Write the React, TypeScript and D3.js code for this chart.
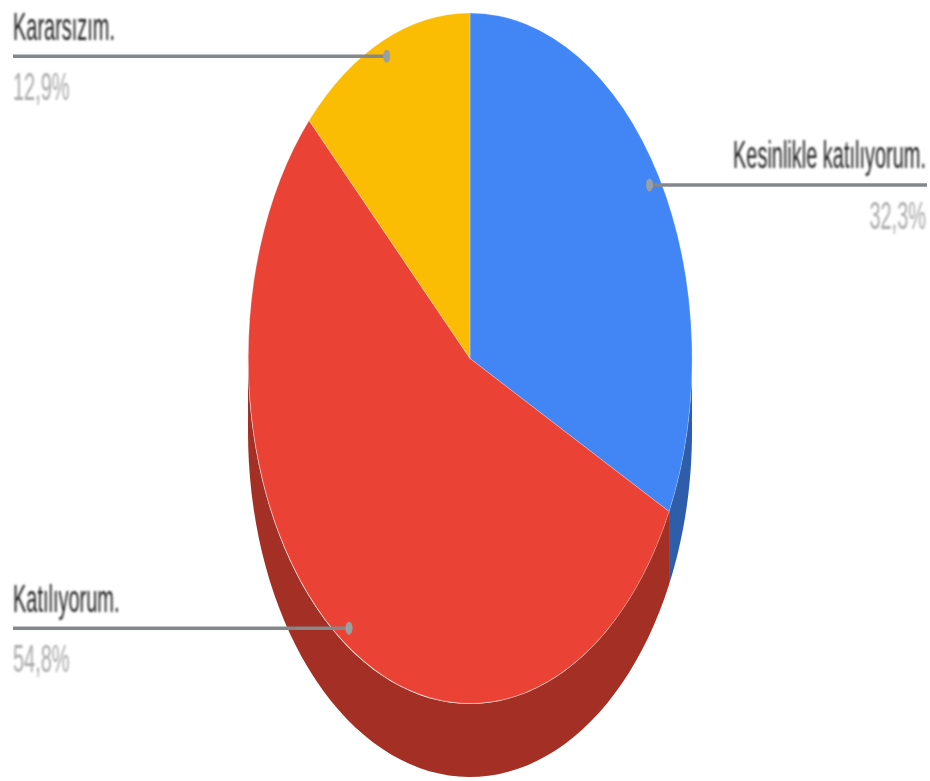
import React from 'react';
import * as d3 from 'd3';

const labels = ['Kesinlikle katılıyorum.', 'Katılıyorum.', 'Kararsızım.'];
const shares = [32.3, 54.8, 12.9];
const shareLabels = ['32,3%', '54,8%', '12,9%'];
const topColors = ['#4285f4', '#ea4335', '#fbbc04'];
const sideColors = ['#2e5daa', '#a32f25', '#b08403'];

const width = 930;
const height = 781;
const cx = 470;
const cy = 358.5;
const rx = 222;
const ry = 345.5;
const depth = 73;
const leaderRadius = 0.952;
const leftEdge = 13;
const rightEdge = 927;

const x = d3.scaleLinear().domain([-1, 1]).range([cx - rx, cx + rx]);
const y = d3.scaleLinear().domain([-1, 1]).range([cy - ry, cy + ry]);

const pie = d3.pie<number>().sort(null)(shares);
const arc = d3.arc<d3.PieArcDatum<number>>().innerRadius(0).outerRadius(1);
const leaderArc = d3.arc<d3.PieArcDatum<number>>().innerRadius(leaderRadius).outerRadius(leaderRadius);

// only the front half of the rim shows below the top face
const rimPath = (start: number, end: number) => {
  const from = Math.max(start, Math.PI / 2);
  const to = Math.min(end, (Math.PI * 3) / 2);
  if (to <= from) return null;
  const angles = d3.range(0, 61).map((i) => from + ((to - from) * i) / 60);
  return d3.area<number>()
    .x((a) => x(Math.sin(a)))
    .y0((a) => y(-Math.cos(a)))
    .y1((a) => y(-Math.cos(a)) + depth)(angles);
};

export default function App() {
  return (
    <svg width={width} height={height} style={{ position: 'absolute', left: 0, top: 0, background: '#fff' }}>
      <defs>
        <filter id="soft" x="-5%" y="-30%" width="110%" height="160%">
          <feGaussianBlur stdDeviation="0.9" />
        </filter>
      </defs>

      {pie.map((d, i) => {
        const rim = rimPath(d.startAngle, d.endAngle);
        return rim ? <path key={i} d={rim} fill={sideColors[i]} /> : null;
      })}

      <g transform={`translate(${cx},${cy}) scale(${rx},${ry})`}>
        {pie.map((d, i) => (
          <path
            key={i}
            d={arc(d) as string}
            fill={topColors[i]}
            stroke="#fff"
            strokeOpacity={0.25}
            strokeWidth={1}
            vectorEffect="non-scaling-stroke"
          />
        ))}
      </g>

      {pie.map((d, i) => {
        const [ux, uy] = leaderArc.centroid(d);
        const px = x(ux);
        const py = y(uy);
        const onRight = px > cx;
        const edge = onRight ? rightEdge : leftEdge;
        const textX = onRight ? edge - 1 : edge;
        const anchor = onRight ? 'end' : 'start';
        return (
          <g key={i}>
            <line x1={edge} x2={px} y1={py} y2={py} stroke="#85888a" strokeWidth={3.5} />
            <ellipse cx={px} cy={py} rx={3.5} ry={6.5} fill="#9a9fa3" />
            <g filter="url(#soft)" fontFamily="'Liberation Sans', Arial, sans-serif" textAnchor={anchor}>
              <text transform={`translate(${textX},${py - 16.5}) scale(0.512,1)`} fontSize={39} fill="#222">
                {labels[i]}
              </text>
              <text transform={`translate(${textX},${py + 44}) scale(0.512,1)`} fontSize={39} fill="#a8a8a8">
                {shareLabels[i]}
              </text>
            </g>
          </g>
        );
      })}
    </svg>
  );
}
